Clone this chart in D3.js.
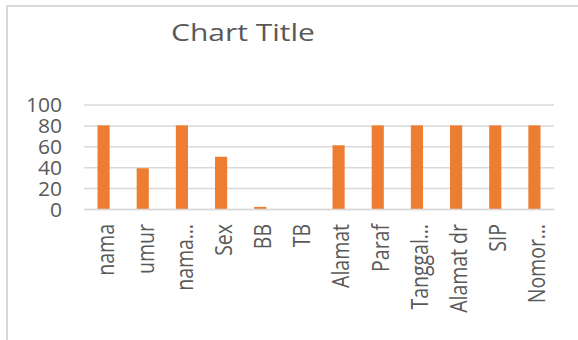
<!DOCTYPE html>
<html><head><meta charset="utf-8">
<script src="https://cdn.jsdelivr.net/npm/d3@7"></script>
<style>body{margin:0;background:#fff}svg{display:block}</style>
</head><body>
<svg id="c" width="578" height="340"></svg>
<script>
const categories = ["nama","umur","nama…","Sex","BB","TB","Alamat","Paraf","Tanggal…","Alamat dr","SIP","Nomor…"];
const values = [80,39,80,50,2,0,61,80,80,80,80,80];
const yTicks = [0,20,40,60,80,100];
const title = "Chart Title";

const svg = d3.select("#c");
const font = "'Open Sans', sans-serif";
// outer border
svg.append("rect").attr("x",7).attr("y",6).attr("width",600).attr("height",400)
  .attr("fill","none").attr("stroke","#d9d9d9").attr("stroke-width",2);

const x = d3.scaleBand().domain(categories).range([84,554]).paddingInner(0.69).paddingOuter(0.345);
const y = d3.scaleLinear().domain([0,100]).range([209,104.5]);

svg.append("text").attr("transform","translate(243,41) scale(1.25,1)").attr("text-anchor","middle")
  .attr("font-family",font).attr("font-size",24).attr("fill","#595959").text(title);

// gridlines
const gy = svg.append("g").attr("transform","translate(84,0)")
  .call(d3.axisLeft(y).tickValues(yTicks).tickSize(-470).tickFormat(d3.format("d")).tickPadding(0));
gy.select(".domain").remove();
gy.selectAll("line").attr("stroke","#d9d9d9").attr("stroke-width",1.5);
gy.selectAll("text").attr("font-family",font).attr("font-size",19.5).attr("fill","#595959")
  .attr("x",0).attr("dy","0.36em").attr("transform","translate(-22,0) scale(1.08,1)");

svg.append("g").selectAll("rect").data(values).join("rect")
  .attr("x",(d,i)=>x(categories[i])).attr("width",x.bandwidth())
  .attr("y",d=>y(d)).attr("height",d=>y(0)-y(d)).attr("fill","#ED7D31");

const gx = svg.append("g").attr("transform","translate(0,209)")
  .call(d3.axisBottom(x).tickSize(0).tickPadding(0));
gx.select(".domain").attr("stroke","#d9d9d9").attr("stroke-width",1.5);
gx.selectAll("text").attr("font-family",font).attr("font-size",19.5).attr("fill","#595959")
  .attr("transform","translate(2,0) rotate(-90) scale(1,1.25)").attr("text-anchor","end")
  .attr("x",-15).attr("y",0).attr("dy","0.36em");
</script>
</body></html>
